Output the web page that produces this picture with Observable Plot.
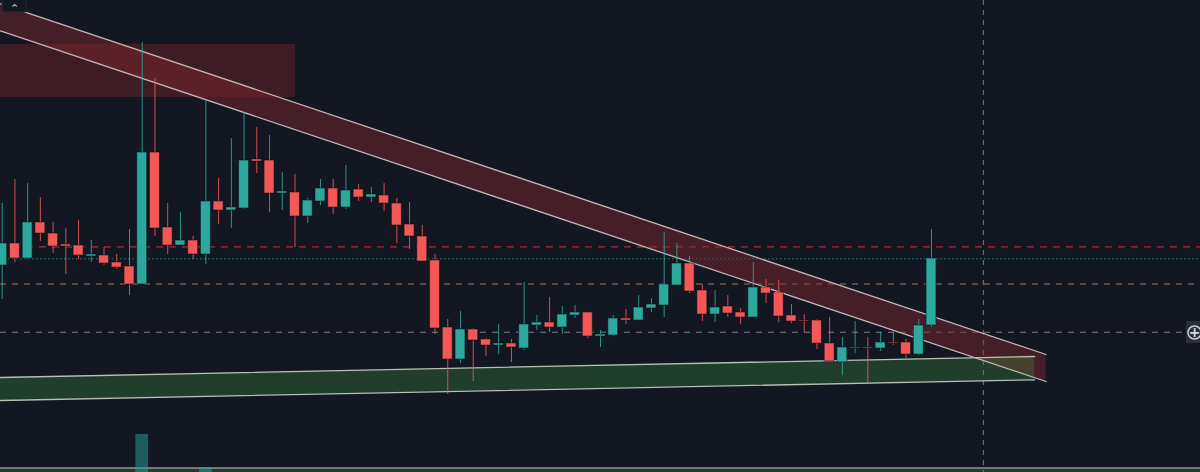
<!DOCTYPE html>
<html>
<head>
<meta charset="utf-8">
<script src="https://cdn.jsdelivr.net/npm/d3@7"></script>
<script src="https://cdn.jsdelivr.net/npm/@observablehq/plot@0.6"></script>
<style>html,body{margin:0;padding:0;background:#121722;overflow:hidden}svg{display:block}</style>
</head>
<body>
<div id="chart"></div>
<script>
const opens = [207,229,214,250,239,228,227,216,217,210,206,188,320,245,227,232,218,271,262,264,313,312,279,280,256,271,284,265,283,275,277,269,248,236,212,145,113,143,133,127,129,124,147,150,145,157,160,136,137,154,152,164,167,187,209,182,158,166,160,155,185,180,157,152,152,129,110,124,125,124,130,130,118,147];
const closes = [229,214,250,239,226,226,217,218,209,205,188,320,244,227,232,218,271,262,265,312,311,279,281,256,272,284,265,282,275,278,269,247,236,211,144,113,143,132,127,129,125,148,150,145,158,160,136,138,154,152,165,168,188,209,181,158,165,159,155,185,179,156,151,151,129,111,125,125,124,130,129,118,147,214];
const highs = [269,293,289,275,250,244,252,232,225,218,243,430,394,269,260,236,372,294,334,360,345,337,300,298,274,293,293,307,288,285,289,274,270,247,218,153,161,144,134,148,133,190,157,175,166,167,160,142,157,163,177,174,240,229,216,188,182,177,164,210,193,192,168,158,153,155,135,151,135,140,140,133,153,243];
const lows = [173,210,213,231,219,198,213,210,207,203,177,188,236,218,227,213,208,248,244,263,299,260,262,225,249,267,258,263,271,270,261,229,223,211,138,78,109,91,116,118,110,122,142,140,138,154,134,125,136,148,152,160,155,187,179,151,150,155,148,155,169,150,149,140,123,111,97,119,90,121,127,114,117,145];
const volumeIndex = [11,16];
const volumes = [38,5];

const redChannelX = [-0.1335,82];
const redUpper = [468.7,118];
const redLower = [441.7,91];
const greenChannelX = [-0.1335,81.1];
const greenUpper = [95,116];
const greenLower = [72,92.7];

const resistanceLevel = [225.6];
const tealLevel = [213.7];
const orangeLevel = [188.5];
const greyLevel = [140.3];
const crosshairIndex = [77.08];

const candles = opens.map((o,i)=>({i,open:o,close:closes[i],high:highs[i],low:lows[i]}));
const vols = volumeIndex.map((i,k)=>({i,v:volumes[k]}));
const redRows = redChannelX.map((x,k)=>({x,hi:redUpper[k],lo:redLower[k]}));
const greenRows = greenChannelX.map((x,k)=>({x,hi:greenUpper[k],lo:greenLower[k]}));
const up = d=>d.close>d.open;
const GREEN="#2da89c", RED="#f35857";
const LINE="#c2b6b8", LINEG="#b6bfb6";

const chart = Plot.plot({
  width:1200,height:472,
  marginTop:0,marginRight:0,marginBottom:0,marginLeft:0,
  x:{domain:[-0.1335,94.13],axis:null},
  y:{domain:[0,472],axis:null},
  style:{background:"#121722"},
  marks:[
    Plot.rect([{}],{x1:-0.1335,x2:23.04,y1:375,y2:428,fill:"#3d1c25"}),
    Plot.rect([{}],{x1:-0.1335,x2:94.13,y1:0,y2:4,fill:"#408d40",fillOpacity:0.33}),
    Plot.ruleY([4.5],{stroke:"#8f939b",strokeWidth:1.5}),
    Plot.ruleX(crosshairIndex,{stroke:"#6a6d79",strokeWidth:1.2,strokeDasharray:"5,5"}),
    Plot.ruleY(resistanceLevel,{stroke:"#b12a33",strokeWidth:1.2,strokeDasharray:"7,6"}),
    Plot.ruleY(tealLevel,{stroke:"#1c8a80",strokeWidth:1,strokeDasharray:"1.5,2.5"}),
    Plot.ruleY(orangeLevel,{stroke:"#a87a4a",strokeWidth:1,strokeDasharray:"6,6"}),
    Plot.ruleY(greyLevel,{stroke:"#7b7e89",strokeWidth:1.1,strokeDasharray:"6,6"}),
    Plot.area(redRows,{x1:"x",y1:"lo",y2:"hi",fill:"#80262d",fillOpacity:0.465}),
    Plot.area(greenRows,{x1:"x",y1:"lo",y2:"hi",fill:"#408d40",fillOpacity:0.33}),
    Plot.line(redRows,{x:"x",y:"hi",stroke:LINE,strokeWidth:1.3}),
    Plot.line(redRows,{x:"x",y:"lo",stroke:LINE,strokeWidth:1.3}),
    Plot.line(greenRows,{x:"x",y:"hi",stroke:LINEG,strokeWidth:1.3}),
    Plot.line(greenRows,{x:"x",y:"lo",stroke:LINEG,strokeWidth:1.3}),
    Plot.rect(vols,{x1:d=>d.i-0.5,x2:d=>d.i+0.5,y1:0,y2:"v",fill:"#26a69a",fillOpacity:0.5}),
    Plot.ruleX(candles,{x:"i",y1:"low",y2:"high",stroke:d=>up(d)?GREEN:RED,strokeWidth:1,strokeOpacity:0.85}),
    Plot.rect(candles,{x1:d=>d.i-0.39,x2:d=>d.i+0.39,y1:"open",y2:"close",fill:d=>up(d)?GREEN:RED,stroke:"#0d1018",strokeWidth:1,strokeOpacity:0.55}),
    Plot.rect([{}],{x1:0.02,x2:1.9,y1:460,y2:474,fill:"#121722",stroke:"#2a2e39"}),
    Plot.text(["⌃"],{x:0.96,y:463,fill:"#b2b5be",fontSize:12,fontFamily:"DejaVu Sans"}),
    Plot.rect([{}],{x1:93.03,x2:94.2,y1:129,y2:151,fill:"#2a2e39"}),
    Plot.dot([{}],{x:93.66,y:140,r:6.5,stroke:"#c9cbd1",strokeWidth:1.5,fill:"none"}),
    Plot.text(["+"],{x:93.66,y:140,fill:"#d5d7dc",fontSize:14,fontWeight:"bold",fontFamily:"DejaVu Sans"})
  ]
});
document.getElementById("chart").appendChild(chart);
</script>
</body>
</html>
